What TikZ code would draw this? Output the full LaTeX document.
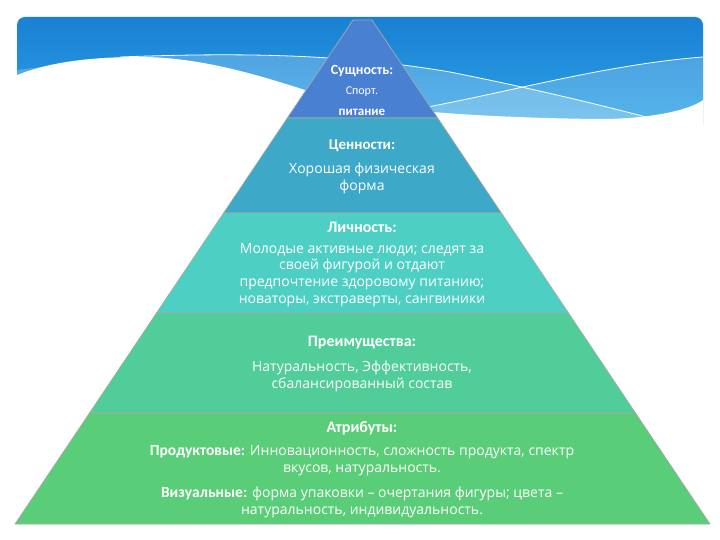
\documentclass[tikz,border=0pt]{standalone}
\usepackage{fontspec}
\setmainfont{Carlito}
\newfontfamily\bodyfont{Open Sans}
\usepackage{tikz}
\usetikzlibrary{calc}
\definecolor{pyrSky}{HTML}{1A80D3}
\definecolor{pyrSkyLow}{HTML}{2DA6E8}
\definecolor{pyrTop}{HTML}{4A80D2}
\definecolor{pyrTeal}{HTML}{3EA8C9}
\definecolor{pyrAqua}{HTML}{4ECFC4}
\definecolor{pyrSea}{HTML}{50CD98}
\definecolor{pyrLeaf}{HTML}{5ACD78}
\definecolor{pyrEdge}{HTML}{A3ABA8}
\newcommand{\headfont}[1]{\rmfamily\fontsize{#1}{#1}\selectfont\bfseries}
\tikzset{
    layer/.style={draw=pyrEdge, line width=0.7pt, line join=round},
    head/.style={font=\headfont{16}, text=white, inner sep=0pt},
    body/.style={font=\bodyfont\fontsize{14}{16.7}\selectfont, text=white, align=center, inner sep=0pt},
    wave/.style={draw=white, line width=0.8pt}
}

\begin{document}
\begin{tikzpicture}[x=1pt, y=-1pt]
\useasboundingbox[fill=white] (0,0) rectangle (720,540);
% header band
\begin{scope}
\clip[rounded corners=8pt] (17,17) rectangle (703,135);
\shade[top color=pyrSky, bottom color=pyrSkyLow] (17,17) rectangle (703,135);
\fill[white, opacity=0.22] (17,70) -- (120,57) .. controls (250,52) and (350,55) .. (450,72) .. controls (540,90) and (600,105) .. (650,118) -- (650,135) -- (17,135) -- cycle;
\fill[white, opacity=0.2] (400,112) .. controls (500,95) and (600,65) .. (703,57) -- (703,135) -- (400,135) -- cycle;
\draw[wave] (120,57) .. controls (250,52) and (350,55) .. (450,72) .. controls (540,90) and (600,105) .. (650,118);
\draw[wave] (400,112) .. controls (500,95) and (600,65) .. (703,57);
\fill[white] (17,75) .. controls (50,62) and (90,57) .. (140,57) .. controls (200,57) and (260,75) .. (320,95) .. controls (380,112) and (500,118) .. (600,119) .. controls (650,119) and (690,110) .. (703,100) -- (703,135) -- (17,135) -- cycle;
\end{scope}
\fill[white] (10,124) rectangle (710,140);
% pyramid
\draw[layer, fill=pyrTop] (353,20) -- (372,20) -- (437.7,118) -- (287.3,118) -- cycle;
\draw[layer, fill=pyrTeal] (287.3,118) -- (437.7,118) -- (501.4,213) -- (223.6,213) -- cycle;
\draw[layer, fill=pyrAqua] (223.6,213) -- (501.4,213) -- (568.5,313) -- (156.5,313) -- cycle;
\draw[layer, fill=pyrSea] (156.5,313) -- (568.5,313) -- (635.5,413) -- (89.5,413) -- cycle;
\draw[layer, fill=pyrLeaf] (89.5,413) -- (635.5,413) -- (710,524) -- (15,524) -- cycle;
% texts
\node[head, font=\headfont{14}] (essence) at (362,71) {Сущность:};
\node[head, font=\rmfamily\fontsize{12}{14}\selectfont] (sport) at (362,92) {Спорт.};
\node[head, font=\headfont{13}] (food) at (362,112) {питание};
\node[head, font=\headfont{15}] (values) at (362,146) {Ценности:};
\node[body] (valuestext) at (362,178.5) {Хорошая физическая\\форма};
\node[head] (person) at (362,227) {Личность:};
\node[body] (persontext) at (362,275) {Молодые активные люди; следят за\\своей фигурой и отдают\\предпочтение здоровому питанию;\\новаторы, экстраверты, сангвиники};
\node[head] (benefits) at (362,343) {Преимущества:};
\node[body] (benefitstext) at (362,376.5) {Натуральность, Эффективность,\\сбалансированный состав};
\node[head] (attrs) at (362,428) {Атрибуты:};
\node[body] (prodtext) at (362,461) {{\headfont{15.5}Продуктовые:} Инновационность, сложность продукта, спектр\\вкусов, натуральность.};
\node[body] (looktext) at (362,502.5) {{\headfont{15.5}Визуальные:} форма упаковки – очертания фигуры; цвета –\\натуральность, индивидуальность.};
\end{tikzpicture}
\end{document}
